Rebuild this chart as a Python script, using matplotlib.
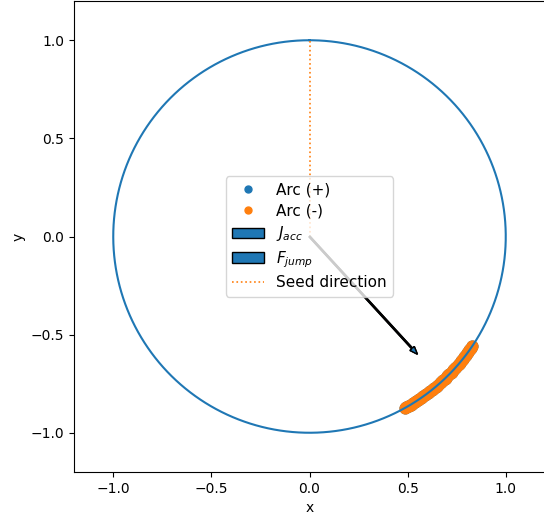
import numpy as np
import matplotlib.pyplot as plt
from matplotlib.patches import Patch
from matplotlib.lines import Line2D

# accepted arc on the unit circle (angles in degrees)
arc_plus_deg = [-34.0, -34.5, -35.0, -35.5, -36.0, -36.5, -37.0, -37.5, -38.0, -38.5,
                -39.0, -39.5, -40.0, -40.5, -41.0, -41.5, -42.0, -42.5, -43.0, -43.5,
                -44.0, -44.5, -45.0, -45.5, -46.0, -46.5, -47.0, -47.5, -48.0, -48.5,
                -49.0, -49.5, -50.0, -50.5, -51.0, -51.5, -52.0, -52.5, -53.0, -53.5,
                -54.0, -54.5, -55.0, -55.5, -56.0, -56.5, -57.0, -57.5, -58.0, -58.5,
                -59.0, -59.5, -60.0, -60.5, -61.0]
arc_minus_deg = list(arc_plus_deg)

# vectors from the origin
j_acc = [0.55, -0.60]
f_jump = [0.55, -0.60]
seed_dir = [0.0, 1.0]

fig = plt.figure(figsize=(5.44, 5.23), dpi=100)
ax = fig.add_axes([74 / 544, 51 / 523, 471 / 544, 471 / 523])

t = np.linspace(np.pi / 2, 2.5 * np.pi, 400)
ax.plot(np.cos(t), np.sin(t), color='C0', lw=1.5)

ap = np.radians(arc_plus_deg)
am = np.radians(arc_minus_deg)
ax.scatter(np.cos(ap), np.sin(ap), s=60, color='C0', zorder=1)
ax.scatter(np.cos(am), np.sin(am), s=60, color='C1', zorder=1)

for v in (j_acc, f_jump):
    ax.arrow(0, 0, v[0], v[1], width=0.006, head_width=0.03, head_length=0.04,
             length_includes_head=True, facecolor='C0', edgecolor='k', zorder=3)

ax.plot([0, seed_dir[0]], [0, seed_dir[1]], ':', color='C1', lw=1.2)

ax.set_xlim(-1.2, 1.2)
ax.set_ylim(-1.2, 1.2)
ax.set_aspect('equal')
ax.set_xticks([-1.0, -0.5, 0.0, 0.5, 1.0])
ax.set_yticks([-1.0, -0.5, 0.0, 0.5, 1.0])
ax.set_xlabel('x')
ax.set_ylabel('y')

handles = [
    Line2D([], [], marker='o', ls='', color='C0', markersize=5),
    Line2D([], [], marker='o', ls='', color='C1', markersize=5),
    Patch(facecolor='C0', edgecolor='k'),
    Patch(facecolor='C0', edgecolor='k'),
    Line2D([], [], ls=':', color='C1', lw=1.2),
]
labels = ['Arc (+)', 'Arc (-)', r'$J_{acc}$', r'$F_{jump}$', 'Seed direction']
ax.legend(handles, labels, loc='center', fontsize=11, labelspacing=0.38,
          handlelength=2.1)

fig.savefig('out.png', dpi=100)
